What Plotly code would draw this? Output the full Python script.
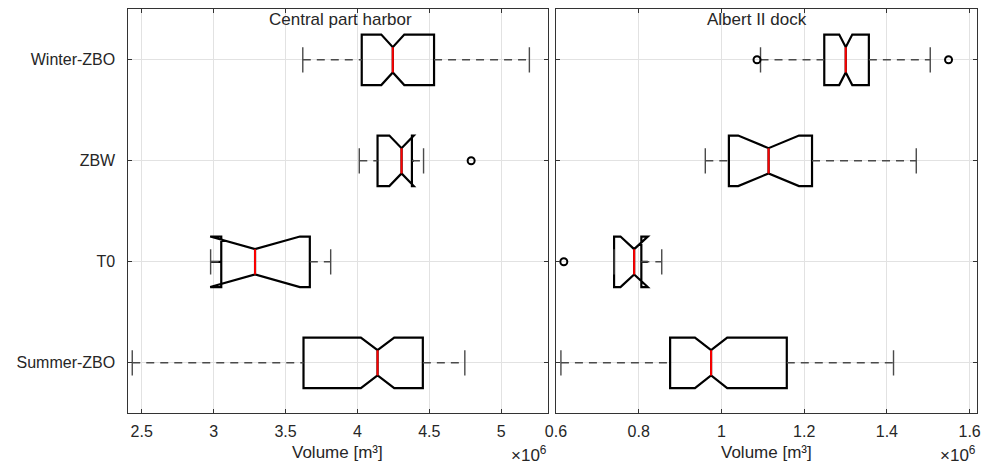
import plotly.graph_objects as go

# ---------------- data (values in 10^6 m^3) ----------------
categories = ["Summer-ZBO", "T0", "ZBW", "Winter-ZBO"]
positions = [1, 2, 3, 4]

# Central part harbor
c_lower = [2.434, 2.979, 4.013, 3.620]
c_q1 = [3.625, 3.053, 4.140, 4.030]
c_median = [4.140, 3.288, 4.307, 4.246]
c_q3 = [4.455, 3.669, 4.379, 4.533]
c_upper = [4.747, 3.814, 4.460, 5.196]
c_notchspan = [0.116, 0.312, 0.085, 0.080]
c_outlier_pos = [3]
c_outlier_val = [4.791]

# Albert II dock
a_lower = [0.612, 0.7405, 0.961, 1.0945]
a_q1 = [0.876, 0.7405, 1.018, 1.2486]
a_median = [0.975, 0.789, 1.114, 1.3005]
a_q3 = [1.158, 0.8064, 1.219, 1.3564]
a_upper = [1.416, 0.8557, 1.471, 1.5048]
a_notchspan = [0.039, 0.033, 0.0735, 0.0158]
a_outlier_pos = [2, 4, 4]
a_outlier_val = [0.619, 1.086, 1.549]

x1_ticks = [2.5, 3, 3.5, 4, 4.5, 5]
x2_ticks = [0.6, 0.8, 1.0, 1.2, 1.4, 1.6]

BOX_W = 0.5
CAP_H = 0.125
WAIST_H = 0.125

FONT = "Liberation Sans, Arial, sans-serif"
TXT = "#262626"

fig = go.Figure()


def add_panel(xa, ya, lower, q1, med, q3, upper, ns, opos, oval):
    # whiskers (dashed)
    wx, wy = [], []
    for p, lo, a, b, hi in zip(positions, lower, q1, q3, upper):
        if a > lo:
            wx += [lo, a, None]
            wy += [p, p, None]
        if hi > b:
            wx += [b, hi, None]
            wy += [p, p, None]
    fig.add_trace(go.Scatter(x=wx, y=wy, mode="lines", xaxis=xa, yaxis=ya,
                             line=dict(color="#4a4a4a", width=1.4, dash="8px,6px"),
                             hoverinfo="skip", showlegend=False))
    # caps (solid)
    cx, cy = [], []
    for p, lo, hi in zip(positions, lower, upper):
        cx += [lo, lo, None, hi, hi, None]
        cy += [p - CAP_H, p + CAP_H, None, p - CAP_H, p + CAP_H, None]
    fig.add_trace(go.Scatter(x=cx, y=cy, mode="lines", xaxis=xa, yaxis=ya,
                             line=dict(color="#4a4a4a", width=1.4),
                             hoverinfo="skip", showlegend=False))
    # notched boxes
    fig.add_trace(go.Box(orientation="h", y=positions, q1=q1, median=med, q3=q3,
                         lowerfence=q1, upperfence=q3, notchspan=ns,
                         notched=True, notchwidth=0.25, width=BOX_W, whiskerwidth=0,
                         boxpoints=False, fillcolor="rgba(0,0,0,0)",
                         line=dict(color="black", width=2.2),
                         xaxis=xa, yaxis=ya, hoverinfo="skip", showlegend=False))
    # medians (red)
    mx, my = [], []
    for p, m in zip(positions, med):
        mx += [m, m, None]
        my += [p - WAIST_H, p + WAIST_H, None]
    fig.add_trace(go.Scatter(x=mx, y=my, mode="lines", xaxis=xa, yaxis=ya,
                             line=dict(color="#ff0000", width=2),
                             hoverinfo="skip", showlegend=False))
    # outliers
    fig.add_trace(go.Scatter(x=oval, y=opos, mode="markers", xaxis=xa, yaxis=ya,
                             marker=dict(symbol="circle-open", size=7, color="black",
                                         line=dict(color="black", width=2)),
                             hoverinfo="skip", showlegend=False))


add_panel("x", "y", c_lower, c_q1, c_median, c_q3, c_upper, c_notchspan,
          c_outlier_pos, c_outlier_val)
add_panel("x2", "y2", a_lower, a_q1, a_median, a_q3, a_upper, a_notchspan,
          a_outlier_pos, a_outlier_val)

W, H = 995, 465
ydom = [1 - 413.3 / H, 1 - 9.3 / H]
x1dom = [118.3 / W, 545.0 / W]
x2dom = [553.3 / W, 980.7 / W]

axis_common = dict(showgrid=True, gridcolor="#e2e2e2", gridwidth=1, zeroline=False,
                   showline=True, linecolor="#333333", linewidth=1.2, mirror="ticks",
                   ticks="inside", ticklen=4, tickcolor="#333333", tickwidth=1,
                   tickfont=dict(family=FONT, size=16, color=TXT))

fig.update_layout(
    width=W, height=H, margin=dict(l=0, r=0, t=0, b=0),
    paper_bgcolor="white", plot_bgcolor="white",
    font=dict(family=FONT, color=TXT),
    showlegend=False,
    xaxis=dict(domain=x1dom, range=[2.401, 5.324], tickvals=x1_ticks,
               anchor="y", ticklabelstandoff=3, **axis_common),
    yaxis=dict(domain=ydom, range=[0.5, 4.5], tickvals=positions, ticktext=categories,
               anchor="x", ticklabelstandoff=8, **axis_common),
    xaxis2=dict(domain=x2dom, range=[0.6, 1.6176], tickvals=x2_ticks,
                ticktext=["0.6", "0.8", "1", "1.2", "1.4", "1.6"],
                anchor="y2", ticklabelstandoff=3, **axis_common),
    yaxis2=dict(domain=ydom, range=[0.5, 4.5], tickvals=positions,
                showticklabels=False, anchor="x2", **axis_common),
)

ann = []
ann.append(dict(text="Central part harbor", x=335 / W, y=1 - 20 / H, xref="paper", yref="paper",
                xanchor="center", yanchor="middle", showarrow=False,
                font=dict(family=FONT, size=17, color=TXT)))
ann.append(dict(text="Albert II dock", x=757 / W, y=1 - 20 / H, xref="paper", yref="paper",
                xanchor="center", yanchor="middle", showarrow=False,
                font=dict(family=FONT, size=17, color=TXT)))
for cx in (331 / W, 767 / W):
    ann.append(dict(text="Volume [m³]", x=cx, y=1 - 452 / H, xref="paper", yref="paper",
                    xanchor="center", yanchor="middle", showarrow=False,
                    font=dict(family=FONT, size=17, color=TXT)))
for rx in (546 / W, 982 / W):
    ann.append(dict(text="×10<sup>6</sup>", x=rx, y=1 - 454 / H, xref="paper", yref="paper",
                    xanchor="right", yanchor="middle", showarrow=False,
                    font=dict(family=FONT, size=17, color=TXT)))
fig.update_layout(annotations=ann)

fig.write_html("out.html")
